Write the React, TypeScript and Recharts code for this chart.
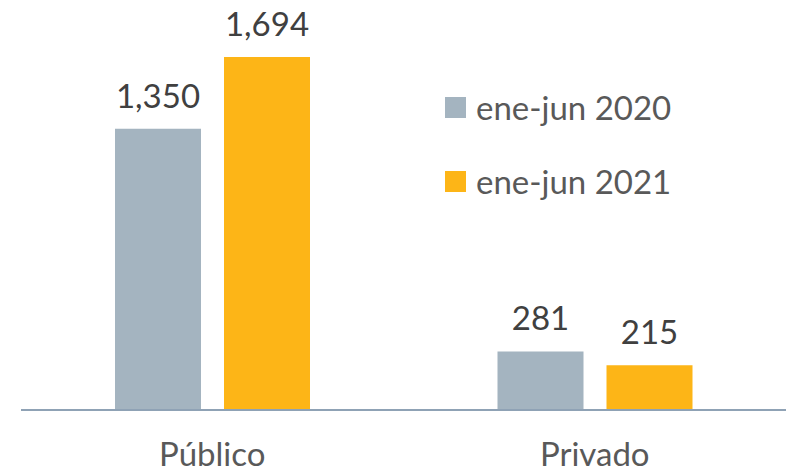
import React from 'react';
import { BarChart, Bar, XAxis, YAxis, LabelList } from 'recharts';

const categories = ['Público', 'Privado'];
const series2020 = [1350, 281];
const series2021 = [1694, 215];
const seriesNames = ['ene-jun 2020', 'ene-jun 2021'];
const colors = ['#A4B4C0', '#FDB517'];

const data = categories.map((c, i) => ({ name: c, a: series2020[i], b: series2021[i] }));

const FONT = 'Lato, "Open Sans", sans-serif';

const fmt = (v: number) => v.toLocaleString('en-US');

const LegendBox = () => (
  <div style={{ position: 'absolute', left: 445, top: 87, fontFamily: FONT, fontSize: 33, color: '#595959' }}>
    {seriesNames.map((n, i) => (
      <div key={n} style={{ display: 'flex', alignItems: 'center', height: 40, marginBottom: i === 0 ? 34 : 0 }}>
        <div style={{ width: 21, height: 21, background: colors[i], marginRight: 10 }} />
        <span>{n}</span>
      </div>
    ))}
  </div>
);

export default function App() {
  return (
    <div style={{ position: 'absolute', left: 0, top: 0, width: 786, height: 475, background: '#fff' }}>
      <BarChart
        width={786}
        height={475}
        data={data}
        margin={{ top: 14, right: 0, left: 21, bottom: 0 }}
        barGap={23}
        barSize={86}
      >
        <XAxis
          dataKey="name"
          height={65}
          tickLine={false}
          axisLine={{ stroke: '#8FA2B5', strokeWidth: 2 }}
          tickMargin={27}
          tick={{ fill: '#595959', fontSize: 33, fontFamily: FONT }}
        />
        <YAxis hide domain={[0, 1900]} />
        <Bar dataKey="a" name={seriesNames[0]} fill={colors[0]} isAnimationActive={false}>
          <LabelList dataKey="a" position="top" offset={21} formatter={fmt} style={{ fill: '#404040', fontSize: 33, fontFamily: FONT }} />
        </Bar>
        <Bar dataKey="b" name={seriesNames[1]} fill={colors[1]} isAnimationActive={false}>
          <LabelList dataKey="b" position="top" offset={21} formatter={fmt} style={{ fill: '#404040', fontSize: 33, fontFamily: FONT }} />
        </Bar>
      </BarChart>
      <LegendBox />
    </div>
  );
}
